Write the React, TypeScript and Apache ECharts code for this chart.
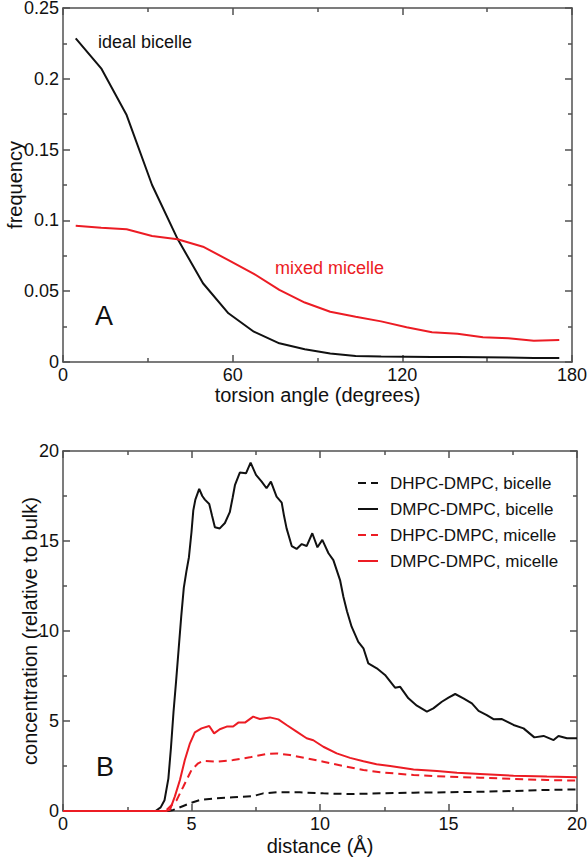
import React, { useEffect, useRef } from "react";
import * as echarts from "echarts";

// ---------- Panel A: torsion angle distribution ----------
const torsionAngles = [4.5, 13.5, 22.5, 31.5, 40.5, 49.5, 58.5, 67.5, 76.5, 85.5, 94.5, 103.5, 112.5, 121.5, 130.5, 139.5, 148.5, 157.5, 166.5, 175.5];
const idealBicelle = [0.2286, 0.2074, 0.1744, 0.125, 0.087, 0.0556, 0.0344, 0.0214, 0.0132, 0.009, 0.006, 0.0042, 0.0038, 0.0037, 0.0036, 0.0035, 0.0033, 0.0031, 0.0028, 0.0028];
const mixedMicelle = [0.0963, 0.0948, 0.0937, 0.089, 0.0867, 0.0814, 0.072, 0.0623, 0.051, 0.042, 0.0355, 0.032, 0.0287, 0.0245, 0.021, 0.02, 0.0175, 0.0167, 0.015, 0.0155];
const angleTicks = { min: 0, max: 180, interval: 60 };
const freqTicks = { min: 0, max: 0.25, interval: 0.05 };

// ---------- Panel B: concentration vs distance ----------
const dhpcBicelle = [[0, 0], [4.1, 0], [4.29, 0.06], [4.68, 0.28], [5.0, 0.46], [5.33, 0.61], [5.97, 0.7], [6.62, 0.76], [7.4, 0.83], [7.79, 0.98], [8.31, 1.04], [9.22, 1.04], [10.13, 0.98], [11.17, 0.94], [12.34, 0.98], [13.64, 1.02], [14.94, 1.04], [16.23, 1.07], [17.53, 1.11], [18.83, 1.17], [20, 1.2]];
const dmpcBicelle = [[0, 0], [3.6, 0], [3.8, 0.2], [3.95, 0.6], [4.1, 1.8], [4.2, 3.5], [4.3, 5.5], [4.4, 7.2], [4.5, 9.0], [4.6, 10.8], [4.7, 12.4], [4.8, 13.3], [4.9, 14.1], [5.0, 15.5], [5.07, 16.7], [5.15, 17.3], [5.3, 17.9], [5.42, 17.5], [5.52, 17.3], [5.69, 17.06], [5.8, 16.4], [5.91, 15.76], [6.1, 15.7], [6.3, 16.0], [6.49, 16.6], [6.6, 17.4], [6.69, 18.1], [6.88, 18.8], [7.12, 18.76], [7.3, 19.35], [7.51, 18.67], [7.73, 18.3], [7.92, 17.93], [8.09, 18.3], [8.31, 17.46], [8.51, 17.13], [8.6, 16.4], [8.7, 15.7], [8.9, 14.72], [9.09, 14.56], [9.29, 14.83], [9.48, 14.72], [9.7, 15.43], [9.9, 14.65], [10.09, 15.06], [10.33, 14.32], [10.52, 13.94], [10.78, 12.83], [10.91, 11.9], [11.05, 11.1], [11.23, 10.24], [11.49, 9.4], [11.69, 9.04], [11.88, 8.2], [12.21, 7.93], [12.53, 7.56], [12.92, 6.85], [13.12, 6.9], [13.44, 6.26], [13.77, 5.85], [14.16, 5.52], [14.41, 5.7], [14.74, 6.07], [15.0, 6.3], [15.26, 6.5], [15.58, 6.26], [15.91, 5.98], [16.17, 5.56], [16.49, 5.33], [16.75, 5.1], [17.08, 5.11], [17.53, 4.78], [17.92, 4.59], [18.34, 4.09], [18.7, 4.17], [19.09, 3.94], [19.28, 4.17], [19.61, 4.04], [20, 4.04]];
const dhpcMicelle = [[0, 0], [3.9, 0], [4.03, 0.06], [4.42, 0.6], [4.68, 1.35], [5.0, 2.28], [5.26, 2.65], [5.45, 2.78], [5.97, 2.74], [6.62, 2.83], [7.27, 2.98], [7.92, 3.17], [8.31, 3.2], [8.83, 3.11], [9.48, 2.93], [10.13, 2.74], [10.91, 2.5], [11.69, 2.28], [12.34, 2.15], [13.64, 2.0], [14.94, 1.91], [16.23, 1.85], [17.53, 1.78], [18.83, 1.72], [20, 1.69]];
const dmpcMicelle = [[0, 0], [4.0, 0], [4.16, 0.06], [4.35, 0.8], [4.55, 1.72], [4.74, 2.83], [4.94, 3.76], [5.13, 4.37], [5.39, 4.59], [5.69, 4.72], [5.88, 4.31], [6.1, 4.54], [6.37, 4.69], [6.62, 4.69], [6.82, 4.91], [7.08, 4.91], [7.4, 5.24], [7.66, 5.11], [8.05, 5.2], [8.38, 5.09], [8.7, 4.78], [9.09, 4.41], [9.48, 4.04], [9.74, 3.93], [10.13, 3.57], [10.65, 3.2], [11.17, 2.95], [11.69, 2.76], [12.2, 2.6], [12.73, 2.5], [13.64, 2.31], [14.55, 2.22], [15.33, 2.13], [16.23, 2.06], [17.53, 1.96], [18.83, 1.91], [20, 1.87]];
const distTicks = { min: 0, max: 20, interval: 5 };
const concTicks = { min: 0, max: 20, interval: 5 };
const seriesNames = ["DHPC-DMPC, bicelle", "DMPC-DMPC, bicelle", "DHPC-DMPC, micelle", "DMPC-DMPC, micelle"];

const FONT = "'Liberation Sans', Arial, Helvetica, sans-serif";
const AXIS_COLOR = "#505050";
const BLACK = "#111111";
const RED = "#ec1c24";
const DASH = [8, 5];
const seriesColors = [BLACK, BLACK, RED, RED];
const seriesDashed = [true, false, true, false];
const gridA = { left: 63, top: 8, width: 509, height: 354 };
const gridB = { left: 63, top: 451, width: 514, height: 360 };

function makeAxis(kind: "x" | "y", gridIndex: number, ticks: any, position: string, withLabels: boolean, name?: string, nameGap?: number) {
  return {
    type: "value",
    gridIndex,
    position,
    min: ticks.min,
    max: ticks.max,
    interval: ticks.interval,
    name: name || "",
    nameLocation: "middle",
    nameGap: nameGap || 0,
    nameMoveOverlap: kind === "x",
    nameRotate: kind === "y" ? 90 : 0,
    nameTextStyle: { fontFamily: FONT, fontSize: 20, color: BLACK },
    axisLine: { show: true, onZero: false, lineStyle: { color: AXIS_COLOR, width: 1.5 } },
    axisTick: { show: true, inside: true, length: 7, lineStyle: { color: AXIS_COLOR, width: 1.5 } },
    minorTick: { show: true, splitNumber: 2, length: 4, lineStyle: { color: AXIS_COLOR, width: 1.5 } },
    axisLabel: { show: withLabels, fontFamily: FONT, fontSize: 18, color: BLACK, margin: 4 },
    splitLine: { show: false },
    minorSplitLine: { show: false },
  };
}

export default function App() {
  const ref = useRef<HTMLDivElement>(null);
  useEffect(() => {
    const chart = echarts.init(ref.current!, null, { renderer: "svg" });
    const lineBase = { type: "line", showSymbol: false, symbol: "none", clip: false, z: 3 };

    const legendGraphics: any[] = [];
    seriesNames.forEach((nm, i) => {
      const cy = 483 + i * 26;
      legendGraphics.push({
        type: "line",
        shape: { x1: 358, y1: cy, x2: 378, y2: cy },
        style: { stroke: seriesColors[i], lineWidth: 2, lineDash: seriesDashed[i] ? [8, 5] : null },
      });
      legendGraphics.push({
        type: "text",
        x: 390,
        y: cy,
        style: { text: nm, fontFamily: FONT, fontSize: 17, fill: BLACK, verticalAlign: "middle", align: "left" },
      });
    });

    chart.setOption({
      animation: false,
      backgroundColor: "#ffffff",
      textStyle: { fontFamily: FONT },
      grid: [
        { ...gridA, outerBoundsMode: "none", containLabel: false },
        { ...gridB, outerBoundsMode: "none", containLabel: false },
      ],
      xAxis: [
        makeAxis("x", 0, angleTicks, "bottom", true, "torsion angle (degrees)", 22),
        makeAxis("x", 0, angleTicks, "top", false),
        makeAxis("x", 1, distTicks, "bottom", true, "distance (Å)", 25),
        makeAxis("x", 1, distTicks, "top", false),
      ],
      yAxis: [
        makeAxis("y", 0, freqTicks, "left", true, "frequency", 38),
        makeAxis("y", 0, freqTicks, "right", false),
        makeAxis("y", 1, concTicks, "left", true, "concentration (relative to bulk)", 23),
        makeAxis("y", 1, concTicks, "right", false),
      ],
      series: [
        { ...lineBase, name: "ideal bicelle", xAxisIndex: 0, yAxisIndex: 0, data: torsionAngles.map((a, i) => [a, idealBicelle[i]]), lineStyle: { color: BLACK, width: 2 }, itemStyle: { color: BLACK } },
        { ...lineBase, name: "mixed micelle", xAxisIndex: 0, yAxisIndex: 0, data: torsionAngles.map((a, i) => [a, mixedMicelle[i]]), lineStyle: { color: RED, width: 2 }, itemStyle: { color: RED } },
        ...seriesNames.map((nm, i) => ({
          ...lineBase,
          name: nm,
          xAxisIndex: 2,
          yAxisIndex: 2,
          data: [dhpcBicelle, dmpcBicelle, dhpcMicelle, dmpcMicelle][i],
          lineStyle: { color: seriesColors[i], width: 2, type: seriesDashed[i] ? DASH : "solid" },
          itemStyle: { color: seriesColors[i] },
        })),
      ],
      graphic: [
        { type: "text", x: 98, y: 42, style: { text: "ideal bicelle", fontFamily: FONT, fontSize: 18, fill: BLACK, verticalAlign: "middle", align: "left" } },
        { type: "text", x: 275, y: 268, style: { text: "mixed micelle", fontFamily: FONT, fontSize: 18, fill: RED, verticalAlign: "middle", align: "left" } },
        { type: "text", x: 104, y: 316, style: { text: "A", fontFamily: FONT, fontSize: 27, fill: BLACK, verticalAlign: "middle", align: "center" } },
        { type: "text", x: 105, y: 767, style: { text: "B", fontFamily: FONT, fontSize: 27, fill: BLACK, verticalAlign: "middle", align: "center" } },
        ...legendGraphics,
      ],
    });
    return () => chart.dispose();
  }, []);
  return <div ref={ref} style={{ position: "absolute", left: 0, top: 0, width: 587, height: 859 }} />;
}
